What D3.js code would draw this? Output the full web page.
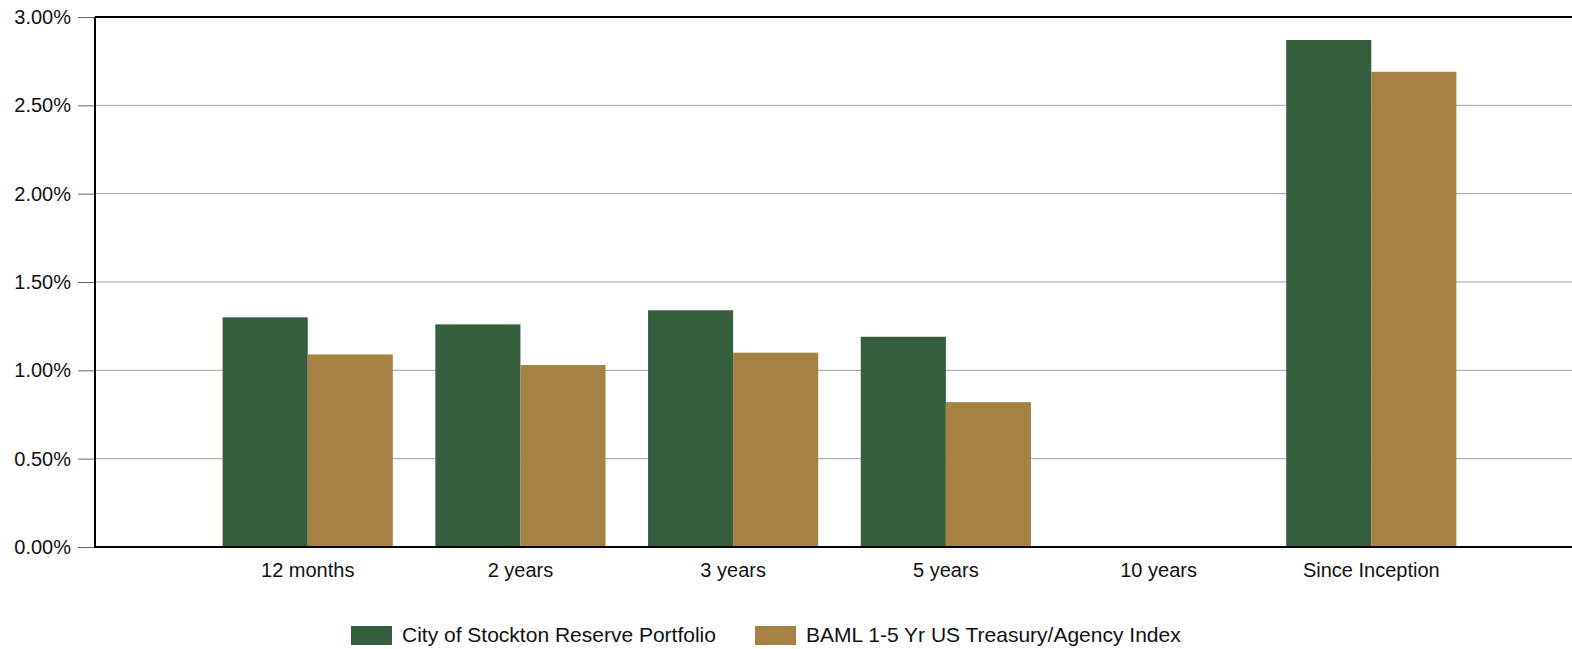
<!DOCTYPE html>
<html>
<head>
<meta charset="utf-8">
<script src="https://cdn.jsdelivr.net/npm/d3@7"></script>
<style>
  body { margin: 0; background: #fff; }
  svg { display: block; font-family: "Liberation Sans", Arial, sans-serif; }
</style>
</head>
<body>
<div id="chart"></div>
<script>
// data
var categories = ["12 months", "2 years", "3 years", "5 years", "10 years", "Since Inception"];
var seriesNames = ["City of Stockton Reserve Portfolio", "BAML 1-5 Yr US Treasury/Agency Index"];
var portfolio = [1.30, 1.26, 1.34, 1.19, null, 2.87];
var benchmark = [1.09, 1.03, 1.10, 0.82, null, 2.69];
var yTicks = [0, 0.5, 1.0, 1.5, 2.0, 2.5, 3.0];
var colors = ["#345e3e", "#a58243"];

var svgWidth = 1572, svgHeight = 649;
var plotLeft = 95, plotTop = 17, plotBottom = 547;

var svg = d3.select("#chart").append("svg")
  .attr("width", svgWidth)
  .attr("height", svgHeight);

var x0 = d3.scaleBand()
  .domain(categories)
  .range([plotLeft, 1584])
  .paddingInner(0.2)
  .paddingOuter(0.6);

var x1 = d3.scaleBand()
  .domain([0, 1])
  .range([0, x0.bandwidth()]);

var y = d3.scaleLinear().domain([0, 3]).range([plotBottom, plotTop]);

// gridlines
svg.append("g").selectAll("line")
  .data(yTicks.slice(1))
  .enter().append("line")
  .attr("x1", plotLeft).attr("x2", svgWidth)
  .attr("y1", function(d){ return y(d); })
  .attr("y2", function(d){ return y(d); })
  .attr("stroke", "#a0a0a0")
  .attr("stroke-width", 1);

// y axis ticks + labels
var yAxis = d3.axisLeft(y)
  .tickValues(yTicks)
  .tickSize(17)
  .tickPadding(7)
  .tickFormat(function(d){ return d.toFixed(2) + "%"; });

var yg = svg.append("g")
  .attr("transform", "translate(" + plotLeft + ",0)")
  .call(yAxis);
yg.select(".domain").remove();
yg.selectAll(".tick line").attr("stroke", "#666");
yg.selectAll(".tick text")
  .attr("font-size", "20px")
  .attr("fill", "#111")
  .attr("font-family", "Liberation Sans, Arial, sans-serif");

// bars
var rows = categories.map(function(c, i){ return { cat: c, vals: [portfolio[i], benchmark[i]] }; });

var groups = svg.append("g").selectAll("g")
  .data(rows)
  .enter().append("g")
  .attr("transform", function(d){ return "translate(" + x0(d.cat) + ",0)"; });

groups.selectAll("rect")
  .data(function(d){ return d.vals.map(function(v, j){ return { v: v, j: j }; }).filter(function(e){ return e.v !== null; }); })
  .enter().append("rect")
  .attr("x", function(d){ return x1(d.j); })
  .attr("width", x1.bandwidth())
  .attr("y", function(d){ return y(d.v); })
  .attr("height", function(d){ return y(0) - y(d.v); })
  .attr("fill", function(d){ return colors[d.j]; });

// frame: left, top, bottom
svg.append("line").attr("x1", plotLeft).attr("x2", plotLeft).attr("y1", plotTop).attr("y2", plotBottom)
  .attr("stroke", "#000").attr("stroke-width", 2);
svg.append("line").attr("x1", plotLeft).attr("x2", svgWidth).attr("y1", plotTop).attr("y2", plotTop)
  .attr("stroke", "#000").attr("stroke-width", 2);
svg.append("line").attr("x1", plotLeft - 1).attr("x2", svgWidth).attr("y1", plotBottom).attr("y2", plotBottom)
  .attr("stroke", "#000").attr("stroke-width", 2);

// x labels
svg.append("g").selectAll("text")
  .data(categories)
  .enter().append("text")
  .attr("x", function(d){ return x0(d) + x0.bandwidth() / 2; })
  .attr("y", 577)
  .attr("text-anchor", "middle")
  .attr("font-size", "20px")
  .attr("fill", "#111")
  .text(function(d){ return d; });

// legend
var legendX = [351, 755];
var legend = svg.append("g").selectAll("g")
  .data(seriesNames)
  .enter().append("g")
  .attr("transform", function(d, i){ return "translate(" + legendX[i] + ",626)"; });

legend.append("rect")
  .attr("width", 41).attr("height", 19)
  .attr("fill", function(d, i){ return colors[i]; });

legend.append("text")
  .attr("x", 51).attr("y", 16)
  .attr("font-size", "21px")
  .attr("fill", "#111")
  .text(function(d){ return d; });
</script>
</body>
</html>
